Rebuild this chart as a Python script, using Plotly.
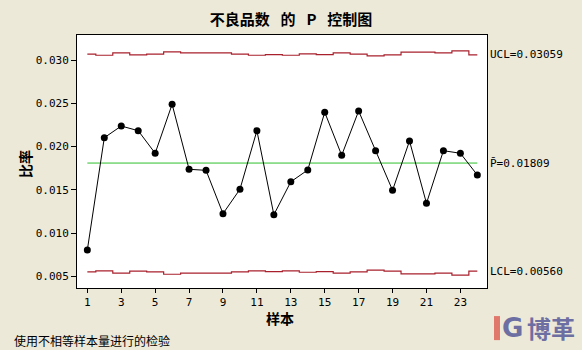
import plotly.graph_objects as go

# Sample numbers and observed proportions defective
samples = list(range(1, 25))
proportion = [0.00804, 0.02102, 0.02237, 0.02183, 0.01922, 0.02488, 0.01737, 0.01725,
              0.01224, 0.01506, 0.02183, 0.01212, 0.01593, 0.01729, 0.02396, 0.01899,
              0.02411, 0.01952, 0.01494, 0.02064, 0.01344, 0.01952, 0.01922, 0.01671]

# Control limits vary with the (unequal) subgroup sizes
ucl = [0.03067, 0.03055, 0.03082, 0.03059, 0.03067, 0.03094, 0.03082, 0.03082,
       0.03082, 0.03067, 0.03055, 0.03063, 0.03055, 0.03071, 0.03063, 0.03082,
       0.03067, 0.03047, 0.03059, 0.03090, 0.03090, 0.03082, 0.03105, 0.03059]
lcl = [0.00551, 0.00563, 0.00536, 0.00560, 0.00551, 0.00524, 0.00536, 0.00536,
       0.00536, 0.00551, 0.00563, 0.00555, 0.00563, 0.00547, 0.00555, 0.00536,
       0.00551, 0.00571, 0.00559, 0.00528, 0.00528, 0.00536, 0.00513, 0.00560]
p_bar = 0.01809

x_ticks = list(range(1, 25, 2))
y_ticks = [0.005, 0.010, 0.015, 0.020, 0.025, 0.030]
y_tick_text = ["0.005", "0.010", "0.015", "0.020", "0.025", "0.030"]

MONO = "DejaVu Sans Mono"
CJK = "Noto Sans CJK SC"
RED = "#a8202c"

fig = go.Figure()

# Step-shaped control limits, centre line, then the proportions
fig.add_trace(go.Scatter(x=samples, y=ucl, mode="lines", line=dict(color=RED, width=1.2, shape="hvh"),
                         hoverinfo="skip", showlegend=False))
fig.add_trace(go.Scatter(x=samples, y=lcl, mode="lines", line=dict(color=RED, width=1.2, shape="hvh"),
                         hoverinfo="skip", showlegend=False))
fig.add_trace(go.Scatter(x=[samples[0], samples[-1]], y=[p_bar, p_bar], mode="lines",
                         line=dict(color="#2ec02e", width=1), hoverinfo="skip", showlegend=False))
fig.add_trace(go.Scatter(x=samples, y=proportion, mode="lines+markers",
                         line=dict(color="black", width=1),
                         marker=dict(color="black", size=7), showlegend=False))

label_font = dict(family=MONO, size=11, color="black")
for text, val in [("UCL=0.03059", ucl[-1]), ("P\u0304=0.01809", p_bar), ("LCL=0.00560", lcl[-1])]:
    fig.add_annotation(x=1, xref="paper", y=val, yref="y", text=text, showarrow=False,
                       xanchor="left", yanchor="middle", xshift=1, font=label_font)

# Axis titles
fig.add_annotation(x=-0.127, xref="paper", y=0.49, yref="paper", text="<b>比率</b>", textangle=-90,
                   showarrow=False, xanchor="center", yanchor="middle",
                   font=dict(family=CJK, size=14, color="black"))
fig.add_annotation(x=0.495, xref="paper", y=-0.119, yref="paper", text="<b>样本</b>",
                   showarrow=False, xanchor="center", yanchor="middle",
                   font=dict(family=CJK, size=14, color="black"))

# Footnote
fig.add_annotation(x=-0.159, xref="paper", y=-0.208, yref="paper", text="使用不相等样本量进行的检验",
                   showarrow=False, xanchor="left", yanchor="middle",
                   font=dict(family=CJK, size=12, color="black"))

# Brand mark in the lower-right corner
fig.add_shape(type="rect", xref="paper", yref="paper", x0=1.0171, x1=1.0317, y0=-0.206, y1=-0.111,
              fillcolor="#e0786c", line_width=0)
fig.add_annotation(x=1.031, xref="paper", y=-0.158, yref="paper", text="<b>G</b>", showarrow=False,
                   xanchor="left", yanchor="middle",
                   font=dict(family="DejaVu Sans", size=26, color="#6d6fa3"))
fig.add_annotation(x=1.092, xref="paper", y=-0.158, yref="paper", text="<b>博革</b>", showarrow=False,
                   xanchor="left", yanchor="middle",
                   font=dict(family=CJK, size=24, color="#6d6fa3"))

fig.update_layout(
    width=582, height=350,
    margin=dict(l=77, r=95, t=35, b=62),
    paper_bgcolor="#ece9d8", plot_bgcolor="white",
    title=dict(text="<b>不良品数\u2002\u00a0的\u2002\u00a0P\u2002\u00a0控制图</b>", x=0.5, xanchor="center",
               y=1 - 20 / 350, yanchor="middle", font=dict(family=CJK, size=15, color="black")),
    font=dict(family=MONO, size=11, color="black"),
)

fig.update_xaxes(range=[0.39, 24.57], tickvals=x_ticks, ticktext=[str(v) for v in x_ticks],
                 ticks="outside", ticklen=4, tickcolor="black", showgrid=False, zeroline=False,
                 showline=True, linecolor="black", linewidth=1, mirror=True,
                 tickfont=dict(family=MONO, size=11, color="black"))
fig.update_yaxes(range=[0.00365, 0.03289], tickvals=y_ticks, ticktext=y_tick_text,
                 ticks="outside", ticklen=5, tickcolor="black", showgrid=False, zeroline=False,
                 showline=True, linecolor="black", linewidth=1, mirror=True,
                 tickfont=dict(family=MONO, size=11, color="black"))

fig.write_html("out.html")
